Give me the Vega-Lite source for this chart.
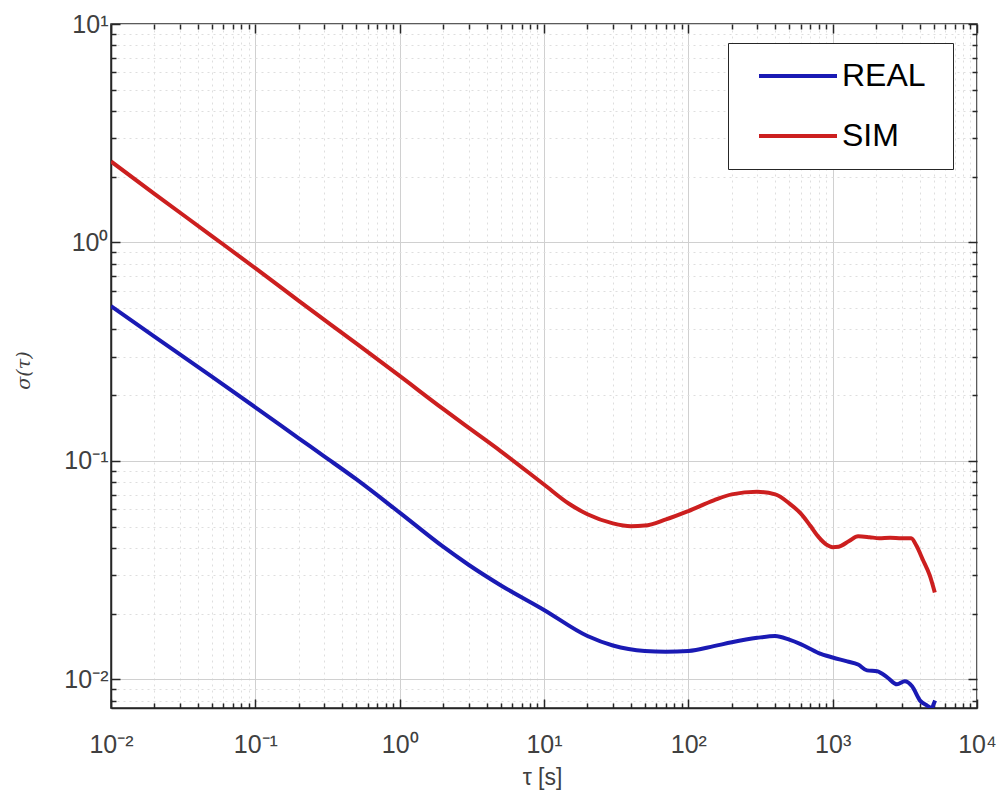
{
  "$schema": "https://vega.github.io/schema/vega-lite/v6.json",
  "width": 866,
  "height": 684,
  "autosize": {"type": "none"},
  "padding": {"left": 111, "top": 24, "right": 23, "bottom": 93},
  "background": "white",
  "config": {
    "view": {"stroke": "#262626", "strokeWidth": 1.5},
    "legend": {
      "orient": "none",
      "legendX": 617,
      "legendY": 19,
      "symbolType": "M-3,0L3,0M10,0L10,0",
      "symbolSize": 676,
      "symbolStrokeWidth": 4,
      "symbolOffset": 37,
      "labelFontSize": 32,
      "labelFont": "Liberation Sans",
      "labelColor": "#000000",
      "strokeColor": "#262626",
      "fillColor": "white",
      "padding": 17,
      "rowPadding": 28,
      "labelOffset": 28
    }
  },
  "data": {
    "values": [
      {"tau": 0.01, "sigma": 0.511, "series": "REAL"},
      {"tau": 0.02, "sigma": 0.371, "series": "REAL"},
      {"tau": 0.05, "sigma": 0.243, "series": "REAL"},
      {"tau": 0.1, "sigma": 0.176, "series": "REAL"},
      {"tau": 0.2, "sigma": 0.127, "series": "REAL"},
      {"tau": 0.3, "sigma": 0.105, "series": "REAL"},
      {"tau": 0.5, "sigma": 0.0825, "series": "REAL"},
      {"tau": 1, "sigma": 0.058, "series": "REAL"},
      {"tau": 2, "sigma": 0.0405, "series": "REAL"},
      {"tau": 3, "sigma": 0.0335, "series": "REAL"},
      {"tau": 5, "sigma": 0.027, "series": "REAL"},
      {"tau": 10, "sigma": 0.0208, "series": "REAL"},
      {"tau": 20, "sigma": 0.0158, "series": "REAL"},
      {"tau": 30, "sigma": 0.0143, "series": "REAL"},
      {"tau": 50, "sigma": 0.0135, "series": "REAL"},
      {"tau": 70, "sigma": 0.0134, "series": "REAL"},
      {"tau": 100, "sigma": 0.0135, "series": "REAL"},
      {"tau": 150, "sigma": 0.0142, "series": "REAL"},
      {"tau": 200, "sigma": 0.0148, "series": "REAL"},
      {"tau": 300, "sigma": 0.0155, "series": "REAL"},
      {"tau": 400, "sigma": 0.0158, "series": "REAL"},
      {"tau": 500, "sigma": 0.0152, "series": "REAL"},
      {"tau": 600, "sigma": 0.0145, "series": "REAL"},
      {"tau": 800, "sigma": 0.0132, "series": "REAL"},
      {"tau": 1000, "sigma": 0.0126, "series": "REAL"},
      {"tau": 1260, "sigma": 0.0121, "series": "REAL"},
      {"tau": 1500, "sigma": 0.0117, "series": "REAL"},
      {"tau": 1730, "sigma": 0.011, "series": "REAL"},
      {"tau": 2030, "sigma": 0.0109, "series": "REAL"},
      {"tau": 2400, "sigma": 0.0102, "series": "REAL"},
      {"tau": 2790, "sigma": 0.0095, "series": "REAL"},
      {"tau": 3160, "sigma": 0.0098, "series": "REAL"},
      {"tau": 3550, "sigma": 0.0093, "series": "REAL"},
      {"tau": 4030, "sigma": 0.008, "series": "REAL"},
      {"tau": 4500, "sigma": 0.0076, "series": "REAL"},
      {"tau": 4880, "sigma": 0.0074, "series": "REAL"},
      {"tau": 5000, "sigma": 0.0077, "series": "REAL"},
      {"tau": 5120, "sigma": 0.008, "series": "REAL"},
      {"tau": 0.01, "sigma": 2.35, "series": "SIM"},
      {"tau": 0.02, "sigma": 1.67, "series": "SIM"},
      {"tau": 0.05, "sigma": 1.07, "series": "SIM"},
      {"tau": 0.1, "sigma": 0.763, "series": "SIM"},
      {"tau": 0.2, "sigma": 0.54, "series": "SIM"},
      {"tau": 0.5, "sigma": 0.345, "series": "SIM"},
      {"tau": 1, "sigma": 0.245, "series": "SIM"},
      {"tau": 2, "sigma": 0.173, "series": "SIM"},
      {"tau": 3, "sigma": 0.142, "series": "SIM"},
      {"tau": 5, "sigma": 0.111, "series": "SIM"},
      {"tau": 10, "sigma": 0.078, "series": "SIM"},
      {"tau": 15, "sigma": 0.0635, "series": "SIM"},
      {"tau": 20, "sigma": 0.057, "series": "SIM"},
      {"tau": 30, "sigma": 0.0518, "series": "SIM"},
      {"tau": 40, "sigma": 0.0503, "series": "SIM"},
      {"tau": 50, "sigma": 0.0506, "series": "SIM"},
      {"tau": 70, "sigma": 0.054, "series": "SIM"},
      {"tau": 100, "sigma": 0.059, "series": "SIM"},
      {"tau": 150, "sigma": 0.066, "series": "SIM"},
      {"tau": 200, "sigma": 0.0703, "series": "SIM"},
      {"tau": 300, "sigma": 0.0722, "series": "SIM"},
      {"tau": 400, "sigma": 0.0703, "series": "SIM"},
      {"tau": 500, "sigma": 0.064, "series": "SIM"},
      {"tau": 600, "sigma": 0.0575, "series": "SIM"},
      {"tau": 700, "sigma": 0.0505, "series": "SIM"},
      {"tau": 800, "sigma": 0.0448, "series": "SIM"},
      {"tau": 900, "sigma": 0.0415, "series": "SIM"},
      {"tau": 1000, "sigma": 0.0403, "series": "SIM"},
      {"tau": 1100, "sigma": 0.0405, "series": "SIM"},
      {"tau": 1300, "sigma": 0.043, "series": "SIM"},
      {"tau": 1500, "sigma": 0.0452, "series": "SIM"},
      {"tau": 1800, "sigma": 0.0448, "series": "SIM"},
      {"tau": 2100, "sigma": 0.0443, "series": "SIM"},
      {"tau": 2500, "sigma": 0.0445, "series": "SIM"},
      {"tau": 3000, "sigma": 0.0443, "series": "SIM"},
      {"tau": 3500, "sigma": 0.0443, "series": "SIM"},
      {"tau": 3800, "sigma": 0.041, "series": "SIM"},
      {"tau": 4200, "sigma": 0.0355, "series": "SIM"},
      {"tau": 4700, "sigma": 0.03, "series": "SIM"},
      {"tau": 5100, "sigma": 0.025, "series": "SIM"}
    ]
  },
  "resolve": {"axis": {"x": "independent", "y": "independent"}},
  "layer": [
    {
      "mark": {"type": "line", "strokeWidth": 4, "clip": true, "interpolate": "monotone"},
      "encoding": {
        "x": {
          "field": "tau",
          "type": "quantitative",
          "scale": {"type": "log", "domain": [0.01, 10000], "nice": false},
          "axis": {
            "orient": "bottom",
            "values": [0.01, 0.02, 0.03, 0.04, 0.05, 0.06, 0.07, 0.08, 0.09, 0.1, 0.2, 0.3, 0.4, 0.5, 0.6, 0.7, 0.8, 0.9, 1, 2, 3, 4, 5, 6, 7, 8, 9, 10, 20, 30, 40, 50, 60, 70, 80, 90, 100, 200, 300, 400, 500, 600, 700, 800, 900, 1000, 2000, 3000, 4000, 5000, 6000, 7000, 8000, 9000, 10000],
            "labelExpr": "datum.value===0.01?'10⁻²':datum.value===0.1?'10⁻¹':datum.value===1?'10⁰':datum.value===10?'10¹':datum.value===100?'10²':datum.value===1000?'10³':datum.value===10000?'10⁴':''",
            "labelOverlap": false,
            "labelBound": false,
            "labelFlush": false,
            "labelFont": "Liberation Sans",
            "labelFontSize": 25,
            "labelColor": "#404040",
            "labelPadding": 33,
            "grid": true,
            "gridColor": {"condition": {"test": "indexof([0.01,0.1,1,10,100,1000,10000], datum.value) >= 0", "value": "#d0d0d0"}, "value": "#dedede"},
            "gridDash": {"condition": {"test": "indexof([0.01,0.1,1,10,100,1000,10000], datum.value) >= 0", "value": []}, "value": [2, 4]},
            "gridWidth": 1,
            "ticks": true,
            "tickColor": "#262626",
            "tickWidth": 1.5,
            "tickSize": {"condition": {"test": "indexof([0.01,0.1,1,10,100,1000,10000], datum.value) >= 0", "value": -9}, "value": -5},
            "domainColor": "#262626",
            "domainWidth": 1.5,
            "title": "τ [s]",
            "titleFont": "Liberation Sans",
            "titleFontSize": 23,
            "titleFontWeight": "normal",
            "titleColor": "#404040",
            "titleX": 431,
            "titleY": 69,
            "titleAlign": "center",
            "titleBaseline": "middle"
          }
        },
        "y": {
          "field": "sigma",
          "type": "quantitative",
          "scale": {"type": "log", "domain": [0.0074, 10], "nice": false},
          "axis": {
            "orient": "left",
            "values": [0.008, 0.009, 0.01, 0.02, 0.03, 0.04, 0.05, 0.06, 0.07, 0.08, 0.09, 0.1, 0.2, 0.3, 0.4, 0.5, 0.6, 0.7, 0.8, 0.9, 1, 2, 3, 4, 5, 6, 7, 8, 9, 10],
            "labelExpr": "datum.value===0.01?'10⁻²':datum.value===0.1?'10⁻¹':datum.value===1?'10⁰':datum.value===10?'10¹':''",
            "labelOverlap": false,
            "labelBound": false,
            "labelFlush": false,
            "labelFont": "Liberation Sans",
            "labelFontSize": 25,
            "labelColor": "#404040",
            "labelPadding": 12,
            "grid": true,
            "gridColor": {"condition": {"test": "indexof([0.01,0.1,1,10], datum.value) >= 0", "value": "#d0d0d0"}, "value": "#dedede"},
            "gridDash": {"condition": {"test": "indexof([0.01,0.1,1,10], datum.value) >= 0", "value": []}, "value": [2, 4]},
            "gridWidth": 1,
            "ticks": true,
            "tickColor": "#262626",
            "tickWidth": 1.5,
            "tickSize": {"condition": {"test": "indexof([0.01,0.1,1,10], datum.value) >= 0", "value": -9}, "value": -5},
            "domainColor": "#262626",
            "domainWidth": 1.5,
            "title": "σ(τ)",
            "titleFont": "DejaVu Serif",
            "titleFontSize": 19,
            "titleFontWeight": "normal",
            "titleFontStyle": "italic",
            "titleColor": "#404040",
            "titleX": -88,
            "titleY": 346,
            "titleAngle": 270,
            "titleAlign": "center",
            "titleBaseline": "middle"
          }
        },
        "color": {
          "field": "series",
          "type": "nominal",
          "scale": {"domain": ["REAL", "SIM"], "range": ["#1a1ab4", "#cc1f1f"]},
          "legend": {"title": null}
        }
      }
    },
    {
      "mark": {"type": "line", "strokeOpacity": 0},
      "encoding": {
        "x": {
          "field": "tau",
          "type": "quantitative",
          "axis": {
            "orient": "top",
            "values": [0.01, 0.02, 0.03, 0.04, 0.05, 0.06, 0.07, 0.08, 0.09, 0.1, 0.2, 0.3, 0.4, 0.5, 0.6, 0.7, 0.8, 0.9, 1, 2, 3, 4, 5, 6, 7, 8, 9, 10, 20, 30, 40, 50, 60, 70, 80, 90, 100, 200, 300, 400, 500, 600, 700, 800, 900, 1000, 2000, 3000, 4000, 5000, 6000, 7000, 8000, 9000, 10000],
            "labels": false,
            "grid": false,
            "domain": false,
            "tickColor": "#262626",
            "tickWidth": 1.5,
            "tickSize": {"condition": {"test": "indexof([0.01,0.1,1,10,100,1000,10000], datum.value) >= 0", "value": -9}, "value": -5},
            "title": null
          }
        },
        "y": {
          "field": "sigma",
          "type": "quantitative",
          "axis": {
            "orient": "right",
            "values": [0.008, 0.009, 0.01, 0.02, 0.03, 0.04, 0.05, 0.06, 0.07, 0.08, 0.09, 0.1, 0.2, 0.3, 0.4, 0.5, 0.6, 0.7, 0.8, 0.9, 1, 2, 3, 4, 5, 6, 7, 8, 9, 10],
            "labels": false,
            "grid": false,
            "domain": false,
            "tickColor": "#262626",
            "tickWidth": 1.5,
            "tickSize": {"condition": {"test": "indexof([0.01,0.1,1,10], datum.value) >= 0", "value": -9}, "value": -5},
            "title": null
          }
        },
        "detail": {"field": "series", "type": "nominal"}
      }
    }
  ]
}
